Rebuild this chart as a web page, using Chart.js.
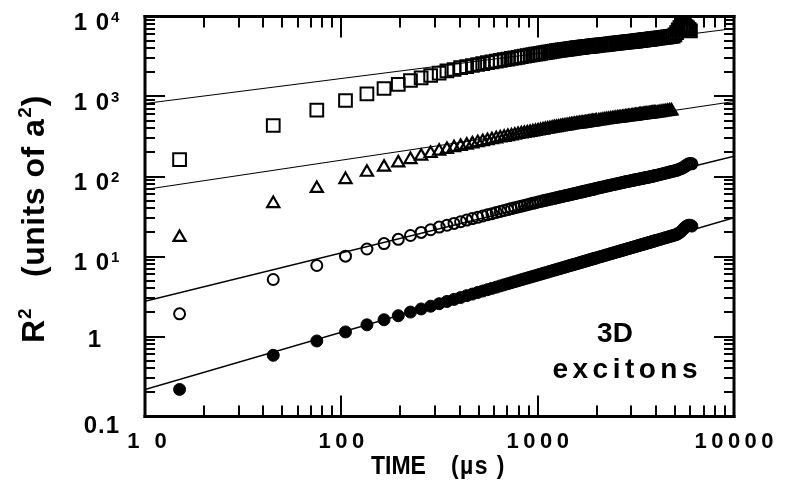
<!DOCTYPE html>
<html>
<head>
<meta charset="utf-8">
<script src="https://cdn.jsdelivr.net/npm/chart.js@4.4.1/dist/chart.umd.min.js"></script>
<style>
  html, body { margin: 0; padding: 0; background: #fff; }
  #wrap { width: 789px; height: 492px; }
</style>
</head>
<body>
<div id="wrap"><canvas id="r2Chart" width="789" height="492"></canvas></div>
<script>
// sample times (us)
const times = [15, 45, 75, 105, 135, 165, 195, 225, 255, 285, 315, 345, 375, 405, 435, 465, 495,
  525, 555, 585, 615, 645, 675, 705, 735, 765, 795, 825, 855, 885, 915, 945, 975,
  1005, 1035, 1065, 1095, 1125, 1155, 1185, 1215, 1245, 1275, 1305, 1335, 1365, 1395, 1425, 1455, 1485,
  1515, 1545, 1575, 1605, 1635, 1665, 1695, 1725, 1755, 1785, 1815, 1845, 1875, 1905, 1935, 1965, 1995,
  2050, 2100, 2150, 2200, 2250, 2300, 2350, 2400, 2450, 2500, 2550, 2600, 2650, 2700, 2750, 2800, 2850, 2900, 2950, 3000,
  3050, 3100, 3150, 3200, 3250, 3300, 3350, 3400, 3450, 3500, 3550, 3600, 3650, 3700, 3750, 3800, 3850, 3900, 3950, 4000,
  4100, 4200, 4300, 4400, 4500, 4600, 4700, 4800, 4900, 5000, 5100, 5200, 5300, 5400, 5500, 5600, 5700, 5800, 5900, 6000, 6100];

// R^2 values (units of a^2)
const filledCircles = [0.218, 0.582, 0.879, 1.14, 1.40, 1.62, 1.82, 2.02, 2.21, 2.39, 2.57, 2.74, 2.91, 3.07, 3.24, 3.39, 3.55,
  3.70, 3.85, 4.00, 4.14, 4.29, 4.43, 4.57, 4.71, 4.85, 4.98, 5.12, 5.25, 5.38, 5.51, 5.64, 5.76,
  5.89, 6.01, 6.14, 6.26, 6.38, 6.51, 6.63, 6.75, 6.86, 6.98, 7.10, 7.22, 7.33, 7.45, 7.56, 7.68, 7.79,
  7.90, 8.01, 8.12, 8.23, 8.34, 8.45, 8.56, 8.67, 8.78, 8.88, 8.99, 9.10, 9.20, 9.31, 9.41, 9.52, 9.62,
  9.81, 9.98, 10.15, 10.31, 10.48, 10.65, 10.81, 10.98, 11.14, 11.30, 11.46, 11.62, 11.78, 11.94, 12.10, 12.26, 12.41, 12.57, 12.72, 12.88,
  13.03, 13.18, 13.34, 13.49, 13.64, 13.79, 13.94, 14.09, 14.23, 14.38, 14.53, 14.68, 14.82, 14.96, 15.11, 15.25, 15.39, 15.54, 15.68, 15.82,
  16.10, 16.38, 16.66, 16.94, 17.21, 17.49, 17.76, 18.03, 18.30, 18.56, 18.83, 19.4, 20.0, 20.8, 21.8, 22.8, 23.7, 24.3, 24.6, 24.5, 24.0];
const openCircles = [1.92, 5.16, 7.72, 10.1, 12.4, 14.5, 16.4, 18.3, 20.0, 21.6, 23.3, 24.6, 25.9, 27.2, 28.5, 29.8, 30.9,
  32.1, 33.3, 34.3, 35.5, 36.5, 37.6, 38.6, 39.7, 40.7, 41.6, 42.6, 43.5, 44.4, 45.3, 46.2, 47.1,
  48.0, 48.8, 49.7, 50.4, 51.2, 51.9, 52.8, 53.4, 54.2, 54.9, 55.7, 56.3, 57.1, 57.8, 58.4, 59.2, 59.9,
  60.6, 61.2, 61.9, 62.7, 63.4, 63.9, 64.6, 65.3, 66.0, 66.5, 67.2, 67.8, 68.5, 69.0, 69.7, 70.3, 71.0,
  72.1, 73.2, 74.1, 75.1, 76.0, 77.0, 77.8, 78.8, 79.6, 80.6, 81.4, 82.3, 83.1, 84.0, 84.8, 85.7, 86.4, 87.3, 88.0, 88.7,
  89.6, 90.3, 91.2, 91.8, 92.7, 93.3, 94.0, 94.8, 95.4, 96.1, 96.9, 97.5, 98.0, 98.9, 99.4, 100.0, 100.8, 101.6, 102.4, 103.1,
  104.7, 106.2, 107.7, 109.3, 110.7, 112.2, 113.7, 115.2, 116.6, 118.0, 119.5, 121.5, 124, 126, 129, 133, 137, 141, 144, 145, 144];
const triangles = [17.3, 45.9, 70.9, 91.6, 113, 131, 148, 163, 180, 194, 207, 218, 229, 238, 247, 256, 265,
  273, 281, 288, 296, 303, 309, 316, 322, 328, 335, 341, 346, 351, 356, 361, 366,
  371, 376, 381, 387, 392, 396, 401, 406, 409, 414, 417, 422, 425, 429, 433, 437, 440,
  444, 447, 450, 453, 456, 459, 462, 465, 468, 471, 474, 477, 480, 483, 485, 488, 491,
  496, 500, 505, 509, 512, 516, 520, 524, 527, 531, 535, 538, 541, 545, 548, 552, 554, 558, 561, 565,
  567, 570, 574, 577, 579, 582, 586, 589, 591, 594, 597, 600, 601, 604, 607, 610, 612, 615, 618, 619,
  625, 630, 636, 641, 647, 652, 657, 662];
const squares = [163, 434, 675, 891, 1081, 1259, 1413, 1585, 1714, 1830, 1954, 2084, 2175, 2291, 2368, 2441, 2512,
  2583, 2646, 2709, 2770, 2831, 2885, 2938, 2990, 3042, 3093, 3144, 3194, 3243, 3292, 3341, 3382,
  3421, 3461, 3500, 3539, 3576, 3623, 3660, 3697, 3734, 3762, 3798, 3825, 3861, 3887, 3913, 3948, 3973,
  3998, 4022, 4047, 4071, 4095, 4118, 4141, 4164, 4186, 4199, 4221, 4243, 4264, 4285, 4306, 4317, 4337,
  4374, 4407, 4430, 4462, 4493, 4524, 4544, 4574, 4604, 4633, 4651, 4680, 4708, 4735, 4752, 4779, 4805, 4831, 4846, 4860,
  4886, 4911, 4935, 4960, 4984, 5008, 5032, 5055, 5078, 5101, 5124, 5146, 5169, 5191, 5213, 5234, 5256, 5277, 5298, 5319,
  5360, 5401, 5441, 5480, 5519, 5557, 5594, 5631, 5668, 5900, 6300, 6800, 7250, 7600, 7750, 7700, 7500, 7200, 6900, 6600];

// fitted power-law lines: value at t = 10 and at t = 10000
const fitStart = [0.2175, 2.76, 68.8, 817];
const fitEnd = [30.5, 179, 866, 7080];

// axis ticks
const xTicks = [10, 100, 1000, 10000];
const xTickLabels = ['1 0', '100', '1000', '10000'];
const yTicks = [0.1, 1, 10, 100, 1000, 10000];
const yTickLabels = ['0.1', '1', '1 0', '1 0', '1 0', '1 0'];
const yTickPowers = ['', '', '1', '2', '3', '4'];

const FONT = '"Liberation Sans", Arial, Helvetica, sans-serif';

function toPoints(vals) {
    return vals.map((v, i) => ({ x: times[i], y: v }));
}

function fitLine(i) {
    return {
        data: [{ x: 10, y: fitStart[i] }, { x: 10000, y: fitEnd[i] }],
        showLine: true,
        borderColor: '#000',
        borderWidth: i < 2 ? 1.4 : 1.1,
        pointRadius: 0
    };
}

// draw text letter by letter with extra spacing
function spacedText(ctx, text, x, y, spacing, align) {
    let total = 0;
    const widths = [];
    for (const ch of text) {
        const w = ctx.measureText(ch).width;
        widths.push(w);
        total += w;
    }
    total += spacing * (widths.length - 1);
    let cx = x;
    if (align === 'center') cx = x - total / 2;
    else if (align === 'right') cx = x - total;
    let k = 0;
    ctx.textAlign = 'left';
    for (const ch of text) {
        ctx.fillText(ch, cx, y);
        cx += widths[k++] + spacing;
    }
    return total;
}

// frame, inward ticks, labels and titles
const axesPlugin = {
    id: 'axesPlugin',
    afterDraw(chart) {
        const { ctx, chartArea: a, scales } = chart;
        const xs = scales.x, ys = scales.y;
        ctx.save();
        ctx.fillStyle = '#000';

        // ticks (filled rects, 2px wide)
        for (let d = 10; d < 10000; d *= 10) {
            for (let m = 1; m <= 9; m++) {
                const px = Math.round(xs.getPixelForValue(d * m));
                const len = m === 1 ? 21 : 11;
                ctx.fillRect(px - 1, a.bottom - len, 2, len);
                ctx.fillRect(px - 1, a.top, 2, len);
            }
        }
        for (let d = 0.1; d < 9999; d *= 10) {
            for (let m = 1; m <= 9; m++) {
                const py = Math.round(ys.getPixelForValue(d * m));
                const len = m === 1 ? 20 : 10;
                ctx.fillRect(a.left, py - 1, len, 2);
                ctx.fillRect(a.right - len, py - 1, len, 2);
            }
        }

        // frame, 3px
        const w = a.right - a.left, h = a.bottom - a.top;
        ctx.fillRect(a.left - 1.5, a.top - 1.5, w + 3, 3);
        ctx.fillRect(a.left - 1.5, a.bottom - 1.5, w + 3, 3);
        ctx.fillRect(a.left - 1.5, a.top - 1.5, 3, h + 3);
        ctx.fillRect(a.right - 1.5, a.top - 1.5, 3, h + 3);

        // x tick labels
        ctx.font = 'bold 22px ' + FONT;
        ctx.textBaseline = 'alphabetic';
        xTicks.forEach((v, i) => {
            const px = xs.getPixelForValue(v);
            spacedText(ctx, xTickLabels[i], px + (i === 0 ? 2 : 0), a.bottom + 31.5, 4.5, 'center');
        });

        // y tick labels
        yTicks.forEach((v, i) => {
            const py = ys.getPixelForValue(v);
            ctx.font = 'bold 24px ' + FONT;
            if (yTickPowers[i]) {
                spacedText(ctx, yTickLabels[i], a.left - 36, py + 13.5, 1, 'right');
                ctx.font = 'bold 15px ' + FONT;
                ctx.textAlign = 'left';
                ctx.fillText(yTickPowers[i], a.left - 34, py + 5.5);
            } else if (yTickLabels[i] === '1') {
                spacedText(ctx, yTickLabels[i], a.left - 44, py + 10.5, 1, 'right');
            } else {
                spacedText(ctx, yTickLabels[i], a.left - 26, py + 16.5, 1, 'right');
            }
        });

        // x title
        ctx.font = 'bold 25px ' + FONT;
        ctx.save();
        ctx.translate(a.left + 226, a.bottom + 57);
        ctx.scale(0.92, 1);
        ctx.textAlign = 'left';
        ctx.fillText('TIME', 0, 0);
        spacedText(ctx, '(\u00B5s )', 87, 0, 1.5, 'left');
        ctx.restore();

        // y title (rotated)
        ctx.save();
        ctx.translate(44, 343);
        ctx.rotate(-Math.PI / 2);
        ctx.font = 'bold 32px ' + FONT;
        ctx.textAlign = 'left';
        ctx.fillText('R', 0, 0);
        const rw = ctx.measureText('R').width;
        ctx.font = 'bold 19px ' + FONT;
        ctx.fillText('2', rw + 1, -13);
        ctx.font = 'bold 32px ' + FONT;
        const uw = spacedText(ctx, '(units of a', 66, 0, 0.5, 'left');
        ctx.font = 'bold 19px ' + FONT;
        ctx.fillText('2', 66 + uw + 1.5, -13);
        ctx.font = 'bold 32px ' + FONT;
        ctx.fillText(')', 66 + uw + 13, 0);
        ctx.restore();

        // annotation
        ctx.font = 'bold 28px ' + FONT;
        spacedText(ctx, '3D', a.right - 119, a.bottom - 75, 0, 'center');
        spacedText(ctx, 'excitons', a.right - 109, a.bottom - 38.5, 4.5, 'center');

        ctx.restore();
    }
};

const ctx = document.getElementById('r2Chart').getContext('2d');

new Chart(ctx, {
    type: 'scatter',
    data: {
        datasets: [
            {
                data: toPoints(filledCircles),
                pointStyle: 'circle',
                pointRadius: 6,
                backgroundColor: '#000',
                borderColor: '#000',
                borderWidth: 1
            },
            {
                data: toPoints(openCircles),
                pointStyle: 'circle',
                pointRadius: 5.5,
                backgroundColor: 'rgba(0,0,0,0)',
                borderColor: '#000',
                borderWidth: 2
            },
            {
                data: toPoints(triangles),
                pointStyle: 'triangle',
                pointRadius: 7,
                backgroundColor: 'rgba(0,0,0,0)',
                borderColor: '#000',
                borderWidth: 2.2
            },
            {
                data: toPoints(squares),
                pointStyle: 'rect',
                pointRadius: 9,
                backgroundColor: 'rgba(0,0,0,0)',
                borderColor: '#000',
                borderWidth: 2
            },
            fitLine(0), fitLine(1), fitLine(2), fitLine(3)
        ]
    },
    options: {
        responsive: false,
        animation: false,
        devicePixelRatio: 1,
        events: [],
        layout: {
            padding: { left: 145, right: 55, top: 16.5, bottom: 75.5 }
        },
        plugins: {
            legend: { display: false },
            tooltip: { enabled: false }
        },
        scales: {
            x: { type: 'logarithmic', min: 10, max: 10000, display: false },
            y: { type: 'logarithmic', min: 0.1, max: 10000, display: false }
        }
    },
    plugins: [axesPlugin]
});
</script>
</body>
</html>
